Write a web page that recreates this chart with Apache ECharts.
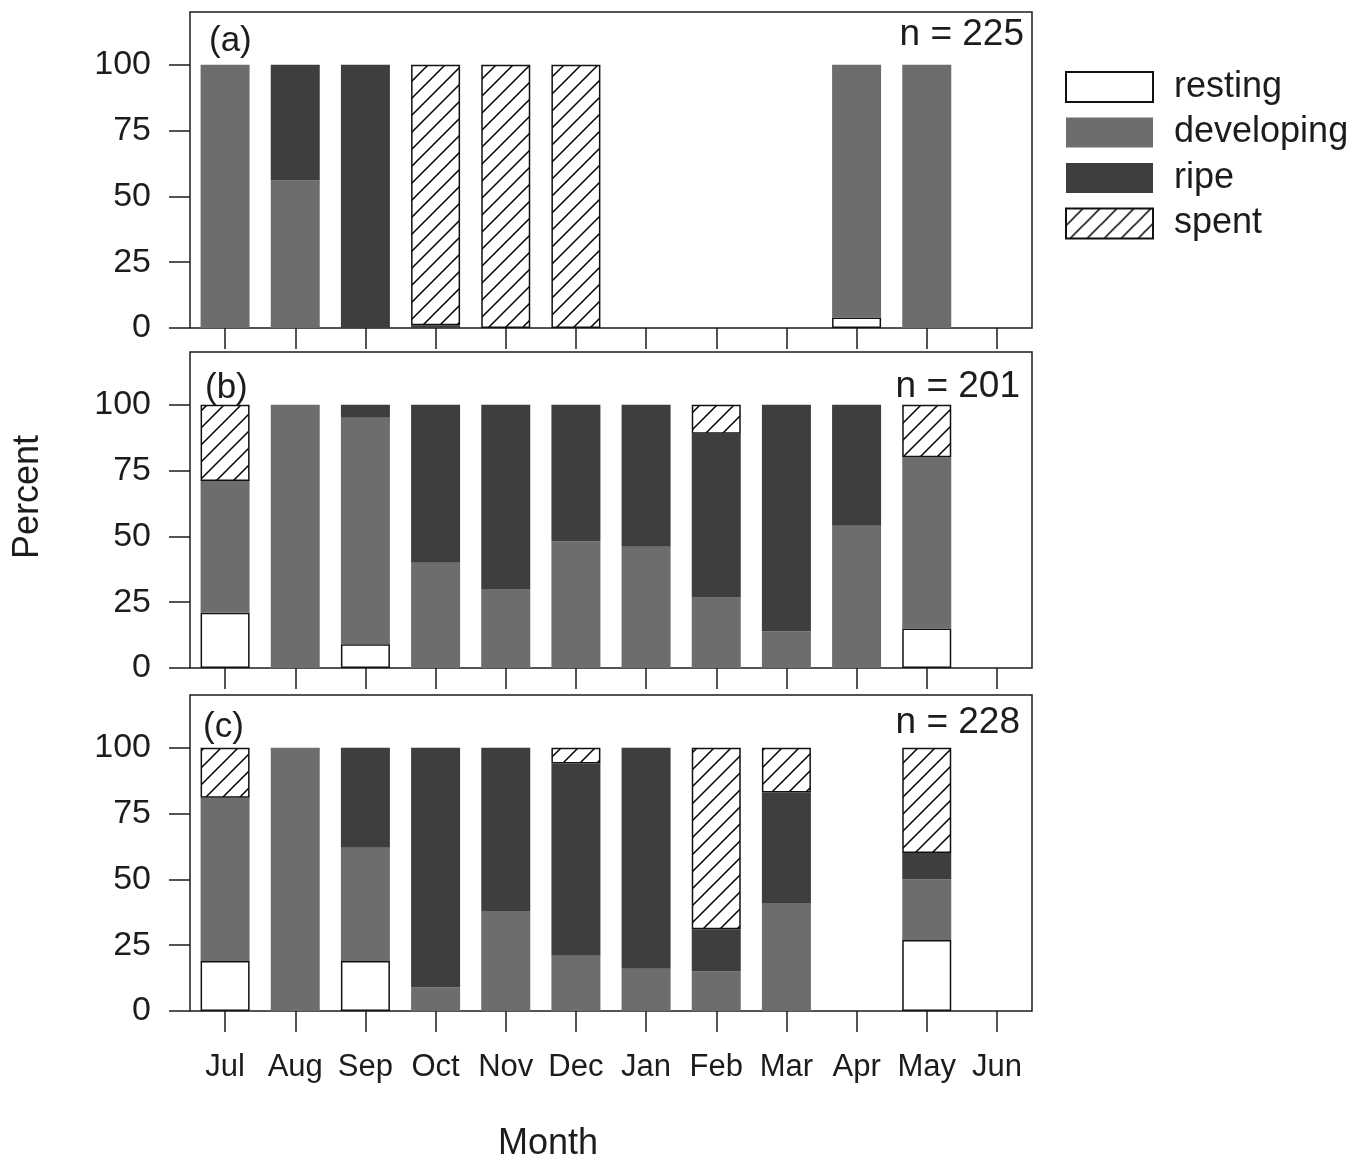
<!DOCTYPE html>
<html>
<head>
<meta charset="utf-8">
<script src="https://cdn.jsdelivr.net/npm/echarts@6/dist/echarts.min.js"></script>
<style>
html,body{margin:0;padding:0;background:#fff;}
#chart{width:1369px;height:1164px;}
</style>
</head>
<body>
<div id="chart"></div>
<script>
// ---------- data ----------
const months = ['Jul','Aug','Sep','Oct','Nov','Dec','Jan','Feb','Mar','Apr','May','Jun'];
const stages = ['resting','developing','ripe','spent'];
const yTicks = [0,25,50,75,100];
const panelLabels = ['(a)','(b)','(c)'];
const nLabels = ['n = 225','n = 201','n = 228'];

const restingA    = [null,null,null,null,null,null,null,null,null,4,null,null];
const developingA = [100,56,null,null,null,null,null,null,null,96,100,null];
const ripeA       = [null,44,100,1,null,null,null,null,null,null,null,null];
const spentA      = [null,null,null,99,100,100,null,null,null,null,null,null];

const restingB    = [21,null,9,null,null,null,null,null,null,null,15,null];
const developingB = [50,100,86,40,30,48,46,27,14,54,65,null];
const ripeB       = [null,null,5,60,70,52,54,62,86,46,null,null];
const spentB      = [29,null,null,null,null,null,null,11,null,null,20,null];

const restingC    = [19,null,19,null,null,null,null,null,null,null,27,null];
const developingC = [62,100,43,9,38,21,16,15,41,null,23,null];
const ripeC       = [null,null,38,91,62,73,84,16,42,null,10,null];
const spentC      = [19,null,null,null,null,6,null,69,17,null,40,null];

const panels = [
  [restingA, developingA, ripeA, spentA],
  [restingB, developingB, ripeB, spentB],
  [restingC, developingC, ripeC, spentC]
];

// ---------- layout / style ----------
const FONT = "'Liberation Sans', Arial, Helvetica, sans-serif";
const INK = '#1c1c1c';
const gridTops = [12, 352, 695];
const gridH = 316;
const gridLeft = 190, gridWidth = 842;
const labelPos = [[209,41],[205,388],[203,727]];
const nPos = [[1024,35],[1020,387],[1020,723]];

function hatchCanvas(){
  const s = 17;
  const c = document.createElement('canvas');
  c.width = s; c.height = s;
  const g = c.getContext('2d');
  g.fillStyle = '#fff'; g.fillRect(0,0,s,s);
  g.strokeStyle = '#000'; g.lineWidth = 1.5;
  g.beginPath();
  g.moveTo(0,s); g.lineTo(s,0);
  g.moveTo(-4,4); g.lineTo(4,-4);
  g.moveTo(s-4,s+4); g.lineTo(s+4,s-4);
  g.stroke();
  return c;
}
const hatch = {image: hatchCanvas(), repeat: 'repeat'};

const stageStyle = {
  resting:    {color:'#ffffff', borderColor:'#111', borderWidth:1.5},
  developing: {color:'#6d6d6d', borderWidth:0},
  ripe:       {color:'#3e3e3e', borderWidth:0},
  spent:      {color:hatch, borderColor:'#111', borderWidth:1.5}
};

const grids = [], xAxes = [], yAxes = [], series = [], graphics = [];
panels.forEach((vals, p) => {
  grids.push({left:gridLeft, width:gridWidth, top:gridTops[p], height:gridH,
    show:true, borderColor:INK, borderWidth:1.5, backgroundColor:'transparent'});
  xAxes.push({type:'category', gridIndex:p, data:months, boundaryGap:true,
    axisLine:{show:false},
    axisTick:{show:true, alignWithLabel:true, interval:0, length:21, inside:false,
      lineStyle:{color:INK, width:1.5}},
    axisLabel:{show:p===2, interval:0, margin:41, fontSize:31, color:INK, fontFamily:FONT},
    splitLine:{show:false}});
  yAxes.push({type:'value', gridIndex:p, min:0, max:120,
    axisLine:{show:false},
    axisTick:{show:true, length:21, customValues:yTicks, lineStyle:{color:INK, width:1.5}},
    axisLabel:{customValues:yTicks, margin:39, fontSize:34, color:INK, fontFamily:FONT},
    splitLine:{show:false}});
  stages.forEach((st, k) => {
    series.push({name:st, type:'bar', xAxisIndex:p, yAxisIndex:p, stack:'p'+p,
      barWidth:49, data:vals[k], itemStyle:stageStyle[st], silent:true,
      emphasis:{disabled:true}});
  });
  graphics.push({type:'text', x:labelPos[p][0], y:labelPos[p][1],
    style:{text:panelLabels[p], fontSize:35, fontFamily:FONT, fill:INK, align:'left', verticalAlign:'middle'}});
  graphics.push({type:'text', x:nPos[p][0], y:nPos[p][1],
    style:{text:nLabels[p], fontSize:37, fontFamily:FONT, fill:INK, align:'right', verticalAlign:'middle'}});
});
graphics.push({type:'text', x:28, y:497, rotation:Math.PI/2,
  style:{text:'Percent', fontSize:36, fontFamily:FONT, fill:INK, align:'center', verticalAlign:'middle'}});
graphics.push({type:'text', x:548, y:1144,
  style:{text:'Month', fontSize:36, fontFamily:FONT, fill:INK, align:'center', verticalAlign:'middle'}});

const chart = echarts.init(document.getElementById('chart'));
chart.setOption({
  animation:false,
  backgroundColor:'#fff',
  grid:grids, xAxis:xAxes, yAxis:yAxes, series:series, graphic:graphics,
  legend:{data:stages, orient:'vertical', left:1065, top:69, padding:0, itemWidth:87, itemHeight:30,
    itemGap:9.5, icon:'rect', selectedMode:false,
    textStyle:{fontSize:36, fontFamily:FONT, color:INK, padding:[0,0,0,16]}}
});
</script>
</body>
</html>
